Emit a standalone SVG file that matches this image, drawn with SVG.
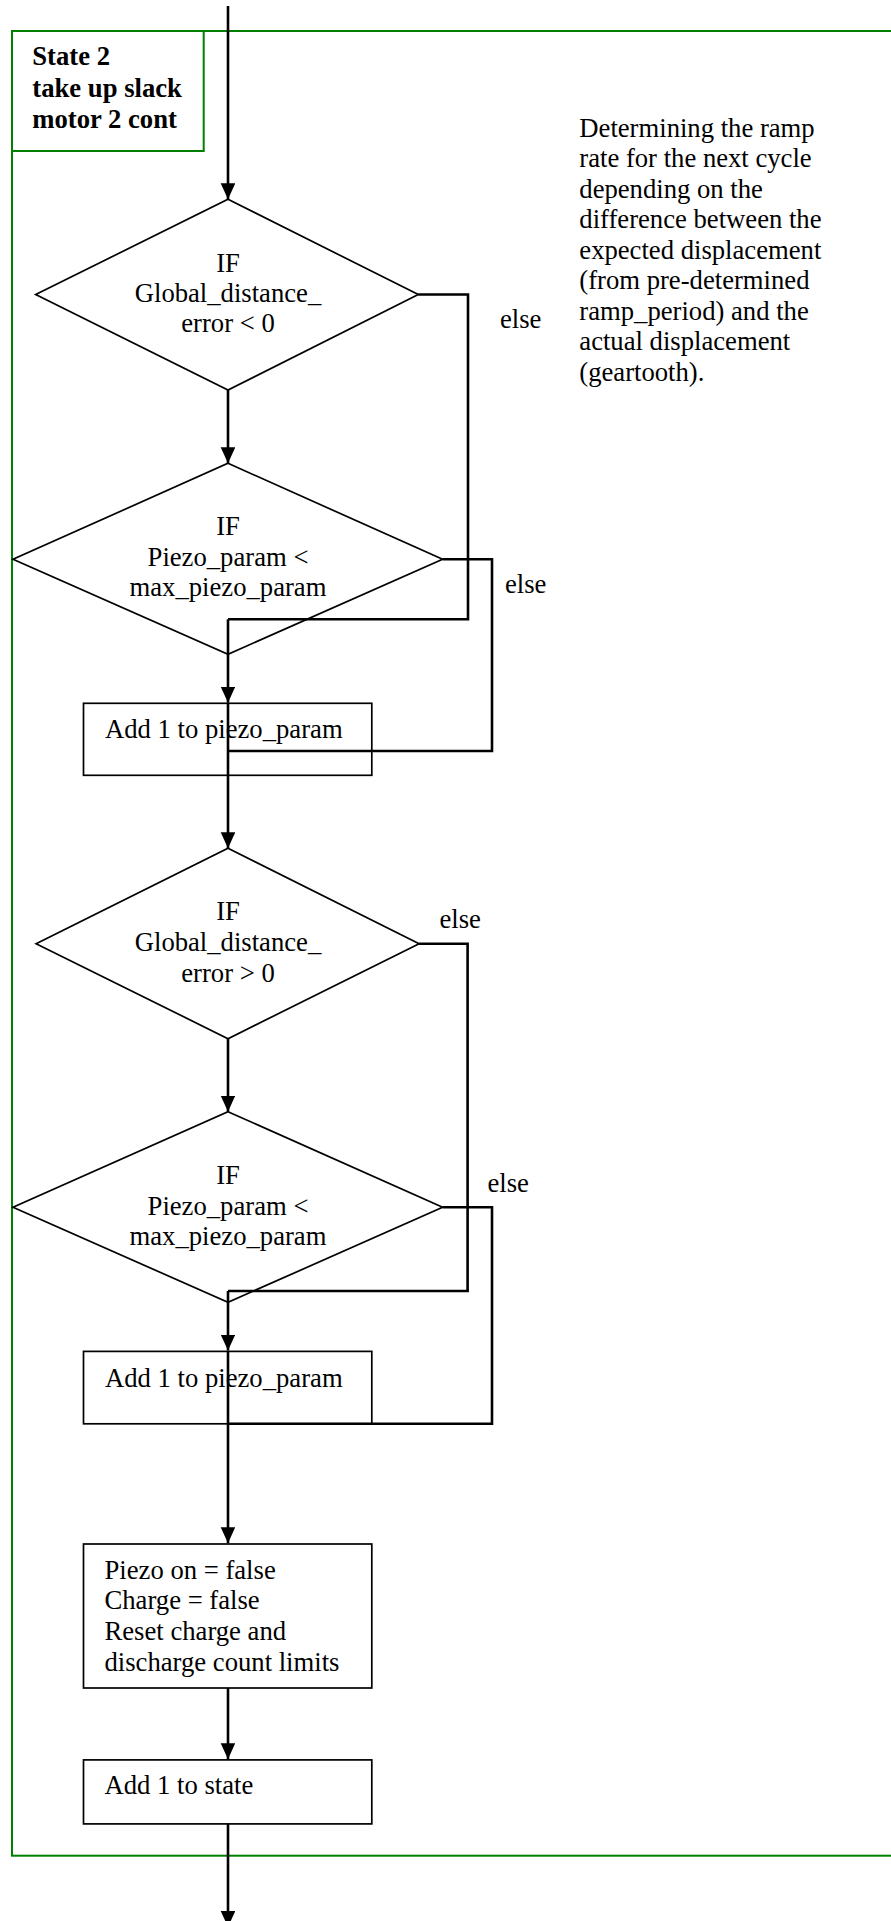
<svg xmlns="http://www.w3.org/2000/svg" width="891" height="1921" viewBox="0 0 891 1921">
  <defs>
    <marker id="arrow" markerUnits="userSpaceOnUse" markerWidth="16" markerHeight="15" refX="16" refY="7.3" orient="auto">
      <path d="M0,0 L16,7.3 L0,14.6 Z" fill="#000"/>
    </marker>
    <style>
      .frame { fill: none; stroke: #008000; stroke-width: 2; }
      .shape { fill: #fff; stroke: #000; stroke-width: 1.7; }
      .conn { fill: none; stroke: #000; stroke-width: 2.6; }
      .arr { marker-end: url(#arrow); }
      text { font-family: "Liberation Serif", "Times New Roman", serif; font-size: 26.67px; fill: #000; }
      .mid { text-anchor: middle; }
      .bold { font-weight: bold; }
    </style>
  </defs>

  <rect width="891" height="1921" fill="#fff"/>

  <!-- state frame -->
  <g id="state-frame">
    <rect class="frame" x="12" y="31" width="900" height="1824.7"/>
    <rect class="frame" x="12" y="31" width="191.7" height="120"/>
    <text class="bold" x="32.3" y="65">State 2</text>
    <text class="bold" x="32.3" y="96.7">take up slack</text>
    <text class="bold" x="32.3" y="127.7">motor 2 cont</text>
  </g>

  <!-- note -->
  <g id="note">
    <text x="579.3" y="136.6">Determining the ramp</text>
    <text x="579.3" y="167.1">rate for the next cycle</text>
    <text x="579.3" y="197.6">depending on the</text>
    <text x="579.3" y="228.1">difference between the</text>
    <text x="579.3" y="258.6">expected displacement</text>
    <text x="579.3" y="289.1">(from pre-determined</text>
    <text x="579.3" y="319.6">ramp_period) and the</text>
    <text x="579.3" y="350.1">actual displacement</text>
    <text x="579.3" y="380.6">(geartooth).</text>
  </g>

  <!-- decision: distance error negative -->
  <g id="dec-err-neg">
    <polygon class="shape" points="228,199.3 418.3,294.5 228,390 35.7,294.5"/>
    <text class="mid" x="228" y="271.7">IF</text>
    <text class="mid" x="228" y="301.7">Global_distance_</text>
    <text class="mid" x="228" y="332.3">error &lt; 0</text>
  </g>

  <!-- decision: piezo param below max (1) -->
  <g id="dec-piezo-1">
    <polygon class="shape" points="228,463.3 442.6,559.3 228,654.3 13,559.3"/>
    <text class="mid" x="228" y="535">IF</text>
    <text class="mid" x="228" y="566.2">Piezo_param &lt;</text>
    <text class="mid" x="228" y="596.4">max_piezo_param</text>
  </g>

  <!-- process: increment piezo param (1) -->
  <g id="inc-piezo-1">
    <rect class="shape" x="83.5" y="703.3" width="288.3" height="72"/>
    <text x="105" y="738.3">Add 1 to piezo_param</text>
  </g>

  <!-- decision: distance error positive -->
  <g id="dec-err-pos">
    <polygon class="shape" points="228,848.3 419.1,943.7 228,1038.7 36.1,943.7"/>
    <text class="mid" x="228" y="920.3">IF</text>
    <text class="mid" x="228" y="951">Global_distance_</text>
    <text class="mid" x="228" y="981.7">error &gt; 0</text>
  </g>

  <!-- decision: piezo param below max (2) -->
  <g id="dec-piezo-2">
    <polygon class="shape" points="228,1111.7 442.6,1207.3 228,1302.3 13,1207.3"/>
    <text class="mid" x="228" y="1184.3">IF</text>
    <text class="mid" x="228" y="1215">Piezo_param &lt;</text>
    <text class="mid" x="228" y="1245.3">max_piezo_param</text>
  </g>

  <!-- process: increment piezo param (2) -->
  <g id="inc-piezo-2">
    <rect class="shape" x="83.5" y="1351.4" width="288.3" height="72.4"/>
    <text x="105" y="1387">Add 1 to piezo_param</text>
  </g>

  <!-- process: reset piezo -->
  <g id="reset-piezo">
    <rect class="shape" x="83.5" y="1544" width="288.3" height="144"/>
    <text x="104.5" y="1578.8">Piezo on = false</text>
    <text x="104.5" y="1609.3">Charge = false</text>
    <text x="104.5" y="1639.9">Reset charge and</text>
    <text x="104.5" y="1670.5">discharge count limits</text>
  </g>

  <!-- process: next state -->
  <g id="next-state">
    <rect class="shape" x="83.5" y="1759.9" width="288.3" height="64"/>
    <text x="104.5" y="1794.3">Add 1 to state</text>
  </g>

  <!-- connectors -->
  <g id="connectors">
    <path class="conn arr" d="M228,6 V199.3"/>
    <path class="conn arr" d="M228,390 V463.3"/>
    <path class="conn" d="M418.3,294.5 H468 V619.3 H228"/>
    <path class="conn arr" d="M228,619.3 V702.7"/>
    <path class="conn" d="M442.6,559.3 H492 V751 H228"/>
    <path class="conn arr" d="M228,703.3 V848.3"/>
    <path class="conn arr" d="M228,1038.7 V1111.7"/>
    <path class="conn" d="M419.1,943.7 H467.6 V1291 H228"/>
    <path class="conn arr" d="M228,1291 V1350.6"/>
    <path class="conn" d="M442.6,1207.3 H492 V1423.8 H228"/>
    <path class="conn arr" d="M228,1351.4 V1543.2"/>
    <path class="conn arr" d="M228,1688 V1759.2"/>
    <path class="conn arr" d="M228,1824 V1927"/>
    <text x="500" y="328.3">else</text>
    <text x="505" y="592.7">else</text>
    <text x="439.5" y="928.3">else</text>
    <text x="487.5" y="1191.7">else</text>
  </g>
</svg>
